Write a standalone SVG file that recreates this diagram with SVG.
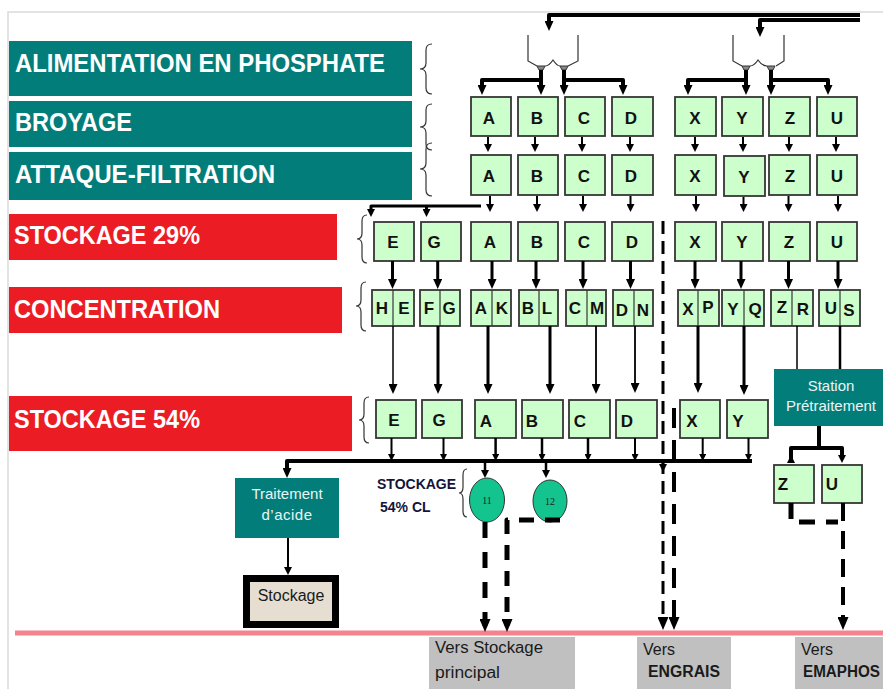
<svg xmlns="http://www.w3.org/2000/svg" width="883" height="689" viewBox="0 0 883 689">
<style>
.teal{fill:#037d7a}
.red{fill:#ec1c24}
.lbl{font-family:"Liberation Sans",Arial,sans-serif;font-weight:bold;font-size:25px;fill:#fff}
.box{fill:#ccffcc;stroke:#363636;stroke-width:1.8}
.div{stroke:#363636;stroke-width:1.2}
.bl{font-family:"Liberation Sans",Arial,sans-serif;font-weight:bold;font-size:17px;fill:#111;text-anchor:middle}
.brace{fill:none;stroke:#333;stroke-width:1.2}
.hop{fill:none;stroke:#333;stroke-width:1.2}
.c{fill:none;stroke:#000;stroke-linejoin:round}
.wt{font-family:"Liberation Sans",Arial,sans-serif;font-size:15px;fill:#e8f6f6;text-anchor:middle}
.dest{fill:#c0c0c0}
.dt{font-family:"Liberation Sans",Arial,sans-serif;font-size:16px;fill:#1a1a1a}
.db{font-family:"Liberation Sans",Arial,sans-serif;font-size:16px;font-weight:bold;fill:#1a1a1a}
.tank{fill:#14c48e;stroke:#333;stroke-width:1}
.tl{font-family:"Liberation Serif",serif;font-size:10px;fill:#222;text-anchor:middle}
</style>
<defs>
<marker id="a8" viewBox="0 0 10 10" refX="5" refY="5" markerWidth="8" markerHeight="8" markerUnits="userSpaceOnUse" orient="auto" preserveAspectRatio="none"><path d="M0,0 L10,5 L0,10 Z" fill="#000"/></marker>
<marker id="a10" viewBox="0 0 10 10" refX="5" refY="5" markerWidth="10" markerHeight="9" markerUnits="userSpaceOnUse" orient="auto" preserveAspectRatio="none"><path d="M0,0 L10,5 L0,10 Z" fill="#000"/></marker>
<marker id="a7" viewBox="0 0 10 10" refX="5" refY="5" markerWidth="7" markerHeight="7" markerUnits="userSpaceOnUse" orient="auto" preserveAspectRatio="none"><path d="M0,0 L10,5 L0,10 Z" fill="#000"/></marker>
<marker id="a13" viewBox="0 0 10 10" refX="5" refY="5" markerWidth="13" markerHeight="11" markerUnits="userSpaceOnUse" orient="auto" preserveAspectRatio="none"><path d="M0,0 L10,5 L0,10 Z" fill="#000"/></marker>
</defs>
<rect width="883" height="689" fill="#fff"/>
<path d="M8,689 V12 H883" fill="none" stroke="#dadada" stroke-width="1.5"/>
<path d="M15,633 H883" stroke="#f4838b" stroke-width="5"/>

<!-- stage labels -->
<g id="lbl-alimentation"><rect class="teal" x="9" y="41" width="403" height="55"/><text class="lbl" x="15" y="72" textLength="370" lengthAdjust="spacingAndGlyphs">ALIMENTATION EN PHOSPHATE</text></g>
<g id="lbl-broyage"><rect class="teal" x="9" y="101" width="403" height="46"/><text class="lbl" x="15" y="131" textLength="117" lengthAdjust="spacingAndGlyphs">BROYAGE</text></g>
<g id="lbl-attaque"><rect class="teal" x="9" y="152" width="403" height="48"/><text class="lbl" x="15" y="183" textLength="260" lengthAdjust="spacingAndGlyphs">ATTAQUE-FILTRATION</text></g>
<g id="lbl-stockage29"><rect class="red" x="9" y="214" width="328" height="46"/><text class="lbl" x="14" y="244" textLength="186" lengthAdjust="spacingAndGlyphs">STOCKAGE 29%</text></g>
<g id="lbl-concentration"><rect class="red" x="9" y="287" width="333" height="46"/><text class="lbl" x="14" y="318" textLength="206" lengthAdjust="spacingAndGlyphs">CONCENTRATION</text></g>
<g id="lbl-stockage54"><rect class="red" x="9" y="396" width="343" height="55"/><text class="lbl" x="14" y="428" textLength="186" lengthAdjust="spacingAndGlyphs">STOCKAGE 54%</text></g>

<!-- braces -->
<g id="braces">
<path class="brace" d="M432,44 Q426,44 426,50 V63 Q426,69 420,69 Q426,69 426,75 V88 Q426,94 432,94"/>
<path class="brace" d="M432,104 Q426,104 426,110 V121 Q426,127 420,127 Q426,127 426,133 V144 Q426,150 432,150"/>
<path class="brace" d="M432,143 Q426,143 426,149 V163 Q426,169 420,169 Q426,169 426,175 V190 Q426,196 432,196"/>
<path class="brace" d="M367,215 Q362,215 362,221 V233 Q362,239 357,239 Q362,239 362,245 V257 Q362,263 367,263"/>
<path class="brace" d="M366,282 Q361,282 361,288 V300 Q361,306 356,306 Q361,306 361,312 V325 Q361,331 366,331"/>
<path class="brace" d="M369,397 Q364,397 364,403 V414 Q364,420 359,420 Q364,420 364,426 V437 Q364,443 369,443"/>
<path class="brace" d="M467,469 Q463,469 463,475 V487 Q463,493 459,493 Q463,493 463,499 V511 Q463,517 467,517"/>
</g>

<!-- hoppers -->
<g id="hopper-1">
<path class="hop" d="M528,35 V61 L537,66 M578,35 V61 L568,66 M545,66 Q549,66 553,60 Q557,66 560,66"/>
<path d="M537,66 H545 L543,70 H539 Z M560,66 H568 L566,70 H562 Z" fill="#888" stroke="#333" stroke-width="1"/>
</g>
<g id="hopper-2">
<path class="hop" d="M733,35 V61 L742,66 M784,35 V61 L776,66 M750,66 Q754,66 758,60 Q762,66 767,66"/>
<path d="M742,66 H750 L748,70 H744 Z M767,66 H775 L773,70 H769 Z" fill="#888" stroke="#333" stroke-width="1"/>
</g>

<!-- row 1: broyage -->
<g id="broyage-A"><rect class="box" x="471" y="97" width="40" height="39"/><text class="bl" x="489" y="124">A</text></g>
<g id="broyage-B"><rect class="box" x="518" y="97" width="40" height="39"/><text class="bl" x="537" y="124">B</text></g>
<g id="broyage-C"><rect class="box" x="565" y="97" width="40" height="39"/><text class="bl" x="584" y="124">C</text></g>
<g id="broyage-D"><rect class="box" x="612" y="97" width="41" height="39"/><text class="bl" x="631" y="124">D</text></g>
<g id="broyage-X"><rect class="box" x="675" y="97" width="41" height="39"/><text class="bl" x="695" y="124">X</text></g>
<g id="broyage-Y"><rect class="box" x="722" y="97" width="41" height="39"/><text class="bl" x="742" y="124">Y</text></g>
<g id="broyage-Z"><rect class="box" x="769" y="97" width="41" height="39"/><text class="bl" x="790" y="124">Z</text></g>
<g id="broyage-U"><rect class="box" x="817" y="97" width="40" height="39"/><text class="bl" x="837" y="124">U</text></g>

<!-- row 2: attaque -->
<g id="attaque-A"><rect class="box" x="471" y="155" width="40" height="40"/><text class="bl" x="489" y="182">A</text></g>
<g id="attaque-B"><rect class="box" x="518" y="155" width="40" height="40"/><text class="bl" x="537" y="182">B</text></g>
<g id="attaque-C"><rect class="box" x="565" y="155" width="40" height="40"/><text class="bl" x="584" y="182">C</text></g>
<g id="attaque-D"><rect class="box" x="612" y="155" width="41" height="40"/><text class="bl" x="631" y="182">D</text></g>
<g id="attaque-X"><rect class="box" x="675" y="155" width="41" height="40"/><text class="bl" x="695" y="182">X</text></g>
<g id="attaque-Y"><rect class="box" x="724" y="156" width="41" height="40"/><text class="bl" x="744" y="183">Y</text></g>
<g id="attaque-Z"><rect class="box" x="769" y="155" width="41" height="40"/><text class="bl" x="790" y="182">Z</text></g>
<g id="attaque-U"><rect class="box" x="817" y="155" width="40" height="40"/><text class="bl" x="837" y="182">U</text></g>

<!-- row 3: stockage 29% -->
<g id="s29-E"><rect class="box" x="374" y="222" width="40" height="39"/><text class="bl" x="393" y="248">E</text></g>
<g id="s29-G"><rect class="box" x="421" y="222" width="40" height="39"/><text class="bl" x="434" y="248">G</text></g>
<g id="s29-A"><rect class="box" x="471" y="222" width="40" height="39"/><text class="bl" x="490" y="248">A</text></g>
<g id="s29-B"><rect class="box" x="518" y="222" width="40" height="39"/><text class="bl" x="537" y="248">B</text></g>
<g id="s29-C"><rect class="box" x="565" y="222" width="40" height="39"/><text class="bl" x="584" y="248">C</text></g>
<g id="s29-D"><rect class="box" x="612" y="222" width="41" height="39"/><text class="bl" x="632" y="248">D</text></g>
<g id="s29-X"><rect class="box" x="675" y="222" width="41" height="39"/><text class="bl" x="695" y="248">X</text></g>
<g id="s29-Y"><rect class="box" x="722" y="222" width="41" height="39"/><text class="bl" x="742" y="248">Y</text></g>
<g id="s29-Z"><rect class="box" x="769" y="222" width="41" height="39"/><text class="bl" x="789" y="248">Z</text></g>
<g id="s29-U"><rect class="box" x="817" y="222" width="40" height="39"/><text class="bl" x="837" y="248">U</text></g>

<!-- row 4: concentration -->
<g id="conc-HE"><rect class="box" x="372" y="290" width="42" height="36"/><line class="div" x1="393" y1="290" x2="393" y2="326"/><text class="bl" x="382" y="314">H</text><text class="bl" x="404" y="314">E</text></g>
<g id="conc-FG"><rect class="box" x="420" y="290" width="40" height="36"/><line class="div" x1="440" y1="290" x2="440" y2="326"/><text class="bl" x="429" y="314">F</text><text class="bl" x="449" y="314">G</text></g>
<g id="conc-AK"><rect class="box" x="471" y="290" width="40" height="36"/><line class="div" x1="492" y1="290" x2="492" y2="326"/><text class="bl" x="481" y="314">A</text><text class="bl" x="502" y="314">K</text></g>
<g id="conc-BL"><rect class="box" x="519" y="290" width="39" height="36"/><line class="div" x1="539" y1="290" x2="539" y2="326"/><text class="bl" x="528" y="314">B</text><text class="bl" x="547" y="314">L</text></g>
<g id="conc-CM"><rect class="box" x="566" y="290" width="40" height="36"/><line class="div" x1="587" y1="290" x2="587" y2="326"/><text class="bl" x="575" y="314">C</text><text class="bl" x="597" y="314">M</text></g>
<g id="conc-DN"><rect class="box" x="613" y="290" width="40" height="36"/><line class="div" x1="634" y1="290" x2="634" y2="326"/><text class="bl" x="622" y="316">D</text><text class="bl" x="643" y="316">N</text></g>
<g id="conc-XP"><rect class="box" x="678" y="290" width="41" height="36"/><line class="div" x1="698" y1="290" x2="698" y2="326"/><text class="bl" x="688" y="315">X</text><text class="bl" x="708" y="313">P</text></g>
<g id="conc-YQ"><rect class="box" x="722" y="290" width="42" height="36"/><line class="div" x1="744" y1="290" x2="744" y2="326"/><text class="bl" x="733" y="315">Y</text><text class="bl" x="755" y="315">Q</text></g>
<g id="conc-ZR"><rect class="box" x="771" y="290" width="42" height="36"/><line class="div" x1="792" y1="290" x2="792" y2="326"/><text class="bl" x="782" y="313">Z</text><text class="bl" x="803" y="315">R</text></g>
<g id="conc-US"><rect class="box" x="819" y="290" width="41" height="36"/><line class="div" x1="840" y1="290" x2="840" y2="326"/><text class="bl" x="831" y="314">U</text><text class="bl" x="849" y="316">S</text></g>

<!-- row 5: stockage 54% -->
<g id="s54-E"><rect class="box" x="376" y="400" width="40" height="38"/><text class="bl" x="394" y="426">E</text></g>
<g id="s54-G"><rect class="box" x="422" y="400" width="40" height="38"/><text class="bl" x="439" y="426">G</text></g>
<g id="s54-A"><rect class="box" x="475" y="400" width="41" height="38"/><text class="bl" x="486" y="427">A</text></g>
<g id="s54-B"><rect class="box" x="522" y="400" width="41" height="38"/><text class="bl" x="532" y="427">B</text></g>
<g id="s54-C"><rect class="box" x="569" y="400" width="41" height="38"/><text class="bl" x="580" y="427">C</text></g>
<g id="s54-D"><rect class="box" x="616" y="400" width="41" height="38"/><text class="bl" x="627" y="427">D</text></g>
<g id="s54-X"><rect class="box" x="680" y="400" width="40" height="38"/><text class="bl" x="692" y="427">X</text></g>
<g id="s54-Y"><rect class="box" x="727" y="400" width="41" height="38"/><text class="bl" x="738" y="427">Y</text></g>

<!-- station pretraitement and Z/U -->
<g id="station"><rect class="teal" x="774" y="369" width="109" height="57"/><text class="wt" x="831" y="391">Station</text><text class="wt" x="831" y="411">Prétraitement</text></g>
<g id="pre-Z"><rect class="box" x="774" y="465" width="40" height="38"/><text class="bl" x="783" y="490">Z</text></g>
<g id="pre-U"><rect class="box" x="822" y="465" width="40" height="38"/><text class="bl" x="832" y="490">U</text></g>

<!-- traitement / stockage -->
<g id="traitement"><rect class="teal" x="235" y="478" width="104" height="60"/><text class="wt" x="287" y="499">Traitement</text><text class="wt" x="287" y="520" letter-spacing="0.5">d’acide</text></g>
<g id="stockage"><rect x="246.5" y="578.5" width="89" height="46" fill="#e6dfd1" stroke="#000" stroke-width="7"/><text class="dt" x="291" y="601" text-anchor="middle" font-size="15">Stockage</text></g>

<!-- tanks -->
<g id="stockage-cl"><text font-family="'Liberation Sans',Arial,sans-serif" font-weight="bold" font-size="14" fill="#14143a" x="377" y="489">STOCKAGE</text><text font-family="'Liberation Sans',Arial,sans-serif" font-weight="bold" font-size="14" fill="#14143a" x="380" y="512">54% CL</text></g>
<g id="tank-11"><ellipse class="tank" cx="487" cy="500" rx="17.5" ry="22"/><text class="tl" x="487" y="503.5">11</text></g>
<g id="tank-12"><ellipse class="tank" cx="550" cy="501" rx="17" ry="21"/><text class="tl" x="550" y="504.5">12</text></g>

<!-- destinations -->
<g id="dest-stockage"><rect class="dest" x="429" y="637" width="146" height="52"/><text class="dt" x="435" y="653" textLength="108" lengthAdjust="spacingAndGlyphs">Vers Stockage</text><text class="dt" x="435" y="678" textLength="65" lengthAdjust="spacingAndGlyphs">principal</text></g>
<g id="dest-engrais"><rect class="dest" x="637" y="637" width="94" height="52"/><text class="dt" x="643" y="655">Vers</text><text class="db" x="648" y="677" textLength="72" lengthAdjust="spacingAndGlyphs">ENGRAIS</text></g>
<g id="dest-emaphos"><rect class="dest" x="795" y="637" width="88" height="52"/><text class="dt" x="801" y="655">Vers</text><text class="db" x="803" y="677" textLength="77" lengthAdjust="spacingAndGlyphs">EMAPHOS</text></g>

<!-- connectors -->
<g id="connectors">
<path class="c" stroke-width="4" d="M860,15 H549 V26" marker-end="url(#a10)"/>
<path class="c" stroke-width="4" d="M860,20 H760 V32" marker-end="url(#a10)"/>
<path class="c" stroke-width="4" d="M541,70 V90" marker-end="url(#a10)"/>
<path class="c" stroke-width="4" d="M541,80 H482 V90" marker-end="url(#a10)"/>
<path class="c" stroke-width="4" d="M564,70 V90" marker-end="url(#a10)"/>
<path class="c" stroke-width="4" d="M564,80 H623 V90" marker-end="url(#a10)"/>
<path class="c" stroke-width="4" d="M746,70 V90" marker-end="url(#a10)"/>
<path class="c" stroke-width="4" d="M746,80 H688 V90" marker-end="url(#a10)"/>
<path class="c" stroke-width="4" d="M771,70 V90" marker-end="url(#a10)"/>
<path class="c" stroke-width="4" d="M771,80 H828 V90" marker-end="url(#a10)"/>
<path class="c" stroke-width="2" d="M488,137 V148" marker-end="url(#a8)"/>
<path class="c" stroke-width="2" d="M535,137 V148" marker-end="url(#a8)"/>
<path class="c" stroke-width="2" d="M582,137 V148" marker-end="url(#a8)"/>
<path class="c" stroke-width="2" d="M630,137 V148" marker-end="url(#a8)"/>
<path class="c" stroke-width="2" d="M695,137 V148" marker-end="url(#a8)"/>
<path class="c" stroke-width="2" d="M743,137 V148" marker-end="url(#a8)"/>
<path class="c" stroke-width="2" d="M789,137 V148" marker-end="url(#a8)"/>
<path class="c" stroke-width="2" d="M836,137 V148" marker-end="url(#a8)"/>
<path class="c" stroke-width="2" d="M490,196 V208" marker-end="url(#a8)"/>
<path class="c" stroke-width="2" d="M537,196 V208" marker-end="url(#a8)"/>
<path class="c" stroke-width="2" d="M583,196 V208" marker-end="url(#a8)"/>
<path class="c" stroke-width="2" d="M630.5,196 V208" marker-end="url(#a8)"/>
<path class="c" stroke-width="2" d="M696,196 V208" marker-end="url(#a8)"/>
<path class="c" stroke-width="2" d="M743.5,197 V208" marker-end="url(#a8)"/>
<path class="c" stroke-width="2" d="M788.5,196 V208" marker-end="url(#a8)"/>
<path class="c" stroke-width="2" d="M838,196 V208" marker-end="url(#a8)"/>
<path class="c" stroke-width="3" d="M481,206 H371 V213" marker-end="url(#a8)"/>
<path class="c" stroke-width="3" d="M426.5,206 V213" marker-end="url(#a8)"/>
<path class="c" stroke-width="3" d="M392.5,261 V284" marker-end="url(#a10)"/>
<path class="c" stroke-width="3" d="M437.7,261 V284" marker-end="url(#a10)"/>
<path class="c" stroke-width="3" d="M492,261 V284" marker-end="url(#a10)"/>
<path class="c" stroke-width="3" d="M536,261 V284" marker-end="url(#a10)"/>
<path class="c" stroke-width="3" d="M583,261 V284" marker-end="url(#a10)"/>
<path class="c" stroke-width="3" d="M630.5,261 V284" marker-end="url(#a10)"/>
<path class="c" stroke-width="3" d="M695,261 V284" marker-end="url(#a10)"/>
<path class="c" stroke-width="3" d="M741,261 V284" marker-end="url(#a10)"/>
<path class="c" stroke-width="3" d="M788.5,261 V284" marker-end="url(#a10)"/>
<path class="c" stroke-width="3" d="M838,261 V284" marker-end="url(#a10)"/>
<path class="c" stroke-width="1.5" d="M393,326 V389" marker-end="url(#a10)"/>
<path class="c" stroke-width="3" d="M438,326 V389" marker-end="url(#a10)"/>
<path class="c" stroke-width="3" d="M488,326 V389" marker-end="url(#a10)"/>
<path class="c" stroke-width="3" d="M550,326 V389" marker-end="url(#a10)"/>
<path class="c" stroke-width="1.8" d="M596,326 V389" marker-end="url(#a10)"/>
<path class="c" stroke-width="1.8" d="M635,326 V388" marker-end="url(#a10)"/>
<path class="c" stroke-width="3" d="M698,326 V388" marker-end="url(#a10)"/>
<path class="c" stroke-width="3" d="M744,326 V390" marker-end="url(#a10)"/>
<path class="c" stroke-width="1.5" d="M797,326 V369"/>
<path class="c" stroke-width="2.5" d="M840,326 V369"/>
<path class="c" stroke-width="2" d="M391.5,438 V457.5" marker-end="url(#a7)"/>
<path class="c" stroke-width="2" d="M443.5,438 V457.5" marker-end="url(#a7)"/>
<path class="c" stroke-width="2.5" d="M495.6,438 V457.5" marker-end="url(#a7)"/>
<path class="c" stroke-width="2.5" d="M542,438 V457.5" marker-end="url(#a7)"/>
<path class="c" stroke-width="2.5" d="M588,438 V457.5" marker-end="url(#a7)"/>
<path class="c" stroke-width="2" d="M635,438 V457.5" marker-end="url(#a7)"/>
<path class="c" stroke-width="2" d="M702.7,438 V457.5" marker-end="url(#a7)"/>
<path class="c" stroke-width="2" d="M748.5,438 V457.5" marker-end="url(#a7)"/>
<path class="c" stroke-width="4" d="M752,461 H287 V473" marker-end="url(#a10)"/>
<path class="c" stroke-width="2.5" d="M485,463 V474" marker-end="url(#a8)"/>
<path class="c" stroke-width="2.5" d="M546,463 V474" marker-end="url(#a8)"/>
<path class="c" stroke-width="2.5" d="M663,463 V468" marker-end="url(#a8)"/>
<path class="c" stroke-width="2" d="M288,538 V571" marker-end="url(#a8)"/>
<path class="c" stroke-width="4" d="M819,426 V448"/>
<path class="c" stroke-width="4" d="M791,459 V448 H842 V459" marker-start="url(#a8)" marker-end="url(#a8)"/>
<path class="c" stroke-width="3" stroke-dasharray="13 7" d="M663,221 V623.5" marker-end="url(#a13)"/>
<path class="c" stroke-width="4" stroke-dasharray="20 12" d="M674,408 V623.5" marker-end="url(#a13)"/>
<path class="c" stroke-width="5" stroke-dasharray="16 14" d="M485,522 V625.5" marker-end="url(#a13)"/>
<path class="c" stroke-width="5" stroke-dasharray="15 11" d="M560,520 H507 V625.5" marker-end="url(#a13)"/>
<path class="c" stroke-width="5" stroke-dasharray="16 11" d="M791,503 V522 H838"/>
<path class="c" stroke-width="4" stroke-dasharray="18 10" d="M843,503 V623.5" marker-end="url(#a13)"/>
</g>
</svg>
